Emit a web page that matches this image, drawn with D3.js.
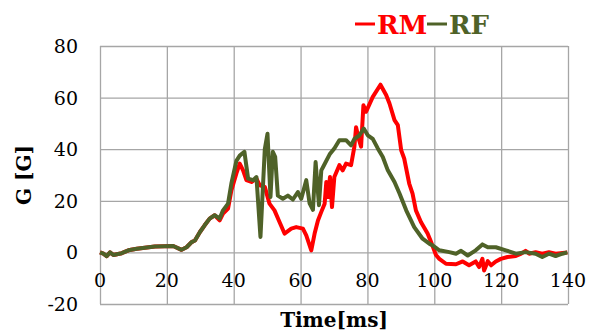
<!DOCTYPE html>
<html lang="en">
<head>
    <meta charset="UTF-8">
    <title>RM / RF acceleration</title>
    <script src="https://d3js.org/d3.v7.min.js"></script>
    <style>
        body { margin: 0; background: #fff; }
        text { font-family: "DejaVu Serif", "Liberation Serif", serif; }
    </style>
</head>
<body>
    <div id="chart"></div>

    <script>
        // Data (time in ms, G in G)
        const rmTime = [0, 1, 2, 3, 4, 6.5, 8.5, 11, 13.4, 16.4, 19.4, 21.9, 24.4, 25.9, 27.4, 28.4, 29.9, 31.3, 32.8, 34.3,
            35.8, 36.8, 38.3, 39.3, 40.8, 41.8, 42.8, 43.8, 45.3, 46.8, 47.8, 49.3, 50.7, 52.2, 53.7, 55.2, 57.2, 58.7, 60.7, 61.7,
            63.2, 64.2, 65.2, 66.2, 67.2, 67.7, 68.2, 68.8, 69.4, 70.1, 71.6, 72.6, 73.6, 75.1, 76.1, 76.6, 77.4, 78.1, 78.8, 79.6,
            81.6, 83.9, 85.6, 86.6, 88.1, 89.1, 90.1, 91, 92.5, 93.5, 94.5, 96, 98, 99.2, 100.5, 101.5, 103.5, 106.5, 108.5, 110.4,
            112.4, 113.4, 114.4, 114.9, 116, 117, 118.4, 119.9, 121.9, 124.4, 126, 127.3, 128.4, 130.3, 132.3, 134.3, 136.3, 139.8];
        const rmG = [0, -0.5, -1.5, 0, -1, -0.3, 0.8, 1.4, 1.8, 2.3, 2.4, 2.5, 1.0, 2, 4, 4.6, 7.9, 10.5, 13.1, 14.4,
            12.4, 15, 17, 24, 30.6, 34.4, 31.8, 28, 27.3, 28.6, 26, 25.4, 18.9, 16.3, 11.8, 7.3, 9.2, 9.8, 9.2, 6.6,
            0.8, 7.3, 12.4, 15.7, 18.9, 27.3, 21.5, 29.2, 17.6, 29.2, 33.8, 31.8, 34.4, 33.8, 41, 48.5, 44, 41, 57, 54.5,
            60.3, 65, 61, 57.7, 51.3, 49.3, 39.6, 36.4, 26.7, 22.8, 16.3, 11.8, 7.3, 3.5, -1, -2.5, -4.4, -4.6, -3.5, -5,
            -3.5, -5.7, -2.5, -7, -3.4, -5, -3.5, -2.5, -1.8, -1.4, -0.5, 0.6, -0.5, 0.1, -0.5, 0.1, -0.5, 0];

        const rfTime = [0, 1, 2, 3, 4, 6.5, 8.5, 11, 13.4, 16.4, 19.4, 21.9, 24.4, 25.9, 27.4, 28.4, 29.9, 31.3, 32.8, 34.3,
            35.8, 36.8, 38.3, 39.3, 40.8, 41.8, 43.2, 44.3, 45.8, 46.8, 48, 49.3, 50.1, 51, 51.7, 52.4, 53.2, 54.7, 56.2, 57.7,
            59.2, 60.2, 61.7, 62.7, 63.7, 64.5, 65.5, 66.2, 66.7, 68.7, 70.1, 71.6, 73.6, 75.1, 76.1, 77.6, 78.9, 80.1, 81.6, 83.1,
            84.6, 86.1, 88.1, 89.6, 91.6, 94, 96.5, 98.5, 99.5, 101.5, 104.5, 106.5, 108, 110, 112.4, 114.4, 116, 118.4, 121.4, 124.4,
            127.3, 130.3, 132.3, 134.3, 136.3, 138.3, 139.8];
        const rfG = [0, -0.5, -1.5, 0, -1, -0.3, 0.8, 1.4, 1.8, 2.3, 2.4, 2.5, 1.0, 2, 4, 4.6, 7.9, 10.5, 13.1, 14.4,
            13.1, 16.3, 18.9, 26.7, 35.5, 37.5, 39, 28.6, 28, 29.2, 6, 40, 46, 21.5, 39, 37, 22, 20.8, 22, 20.5,
            23.4, 20.8, 28, 19, 16.5, 35, 18.3, 31.8, 33, 38, 40.3, 43.5, 43.5, 41.5, 44, 45.4, 48, 45.4, 44, 40.3,
            37, 31.8, 27.3, 22.8, 16.3, 9.8, 5.3, 3.4, 2.7, 0.8, 0.1, -0.5, 0.6, -1.2, 0.8, 3.1, 2, 2, 0.8, -0.5,
            0.1, -0.5, -1.8, -0.5, -1.4, -0.5, 0];

        const xTicks = [0, 20, 40, 60, 80, 100, 120, 140];
        const yTicks = [-20, 0, 20, 40, 60, 80];

        const totalWidth = 594, totalHeight = 333;
        const margin = {top: 46, right: 26, bottom: 29, left: 100};
        const width = totalWidth - margin.left - margin.right;
        const height = totalHeight - margin.top - margin.bottom;

        const svg = d3.select("#chart")
            .append("svg")
            .attr("width", totalWidth)
            .attr("height", totalHeight);

        const g = svg.append("g")
            .attr("transform", `translate(${margin.left},${margin.top})`);

        const x = d3.scaleLinear().domain([0, 140]).range([0, width]);
        const y = d3.scaleLinear().domain([-20, 80]).range([height, 0]);

        // Grid (vertical + horizontal) drawn through axes
        g.append("g")
            .attr("transform", `translate(0,${height})`)
            .call(d3.axisBottom(x).tickValues(xTicks).tickSize(-height).tickFormat(""))
            .call(a => a.select(".domain").remove())
            .selectAll("line").attr("stroke", "#a6a6a6").attr("stroke-width", 1.3);

        g.append("g")
            .call(d3.axisLeft(y).tickValues(yTicks).tickSize(-width).tickFormat(""))
            .call(a => a.select(".domain").remove())
            .selectAll("line").attr("stroke", "#a6a6a6").attr("stroke-width", 1.3);

        // Tick labels
        g.selectAll(".xlab")
            .data(xTicks)
            .enter().append("text")
            .attr("class", "xlab")
            .attr("x", d => x(d))
            .attr("y", y(0) + 35)
            .attr("text-anchor", "middle")
            .attr("font-size", 19)
            .text(d => d);

        g.selectAll(".ylab")
            .data(yTicks)
            .enter().append("text")
            .attr("class", "ylab")
            .attr("x", -22)
            .attr("y", d => y(d) + 7)
            .attr("text-anchor", "end")
            .attr("font-size", 19)
            .text(d => d);

        // Lines
        const line = d3.line()
            .x(d => x(d[0]))
            .y(d => y(d[1]));

        const rm = rmTime.map((t, i) => [t, rmG[i]]);
        const rf = rfTime.map((t, i) => [t, rfG[i]]);

        g.append("path")
            .datum(rm)
            .attr("fill", "none")
            .attr("stroke", "#ff0000")
            .attr("stroke-width", 4)
            .attr("stroke-linejoin", "round")
            .attr("d", line);

        g.append("path")
            .datum(rf)
            .attr("fill", "none")
            .attr("stroke", "#4f6228")
            .attr("stroke-width", 4)
            .attr("stroke-linejoin", "round")
            .attr("d", line);

        // Axis titles
        svg.append("text")
            .attr("x", margin.left + width / 2)
            .attr("y", 327)
            .attr("text-anchor", "middle")
            .attr("font-size", 20)
            .attr("font-weight", "bold")
            .text("Time[ms]");

        svg.append("text")
            .attr("transform", `translate(31,${margin.top + height / 2}) rotate(-90)`)
            .attr("text-anchor", "middle")
            .attr("font-size", 20)
            .attr("font-weight", "bold")
            .text("G [G]");

        // Legend
        const legend = [
            {name: "RM", color: "#ff0000", x0: 355, tx: 377},
            {name: "RF", color: "#4f6228", x0: 427, tx: 449}
        ];
        legend.forEach(l => {
            svg.append("line")
                .attr("x1", l.x0).attr("x2", l.x0 + 20)
                .attr("y1", 24).attr("y2", 24)
                .attr("stroke", l.color)
                .attr("stroke-width", 3);
            svg.append("text")
                .attr("x", l.tx)
                .attr("y", 34)
                .attr("font-size", 26)
                .attr("font-weight", "bold")
                .attr("fill", l.color)
                .text(l.name);
        });
    </script>
</body>
</html>
